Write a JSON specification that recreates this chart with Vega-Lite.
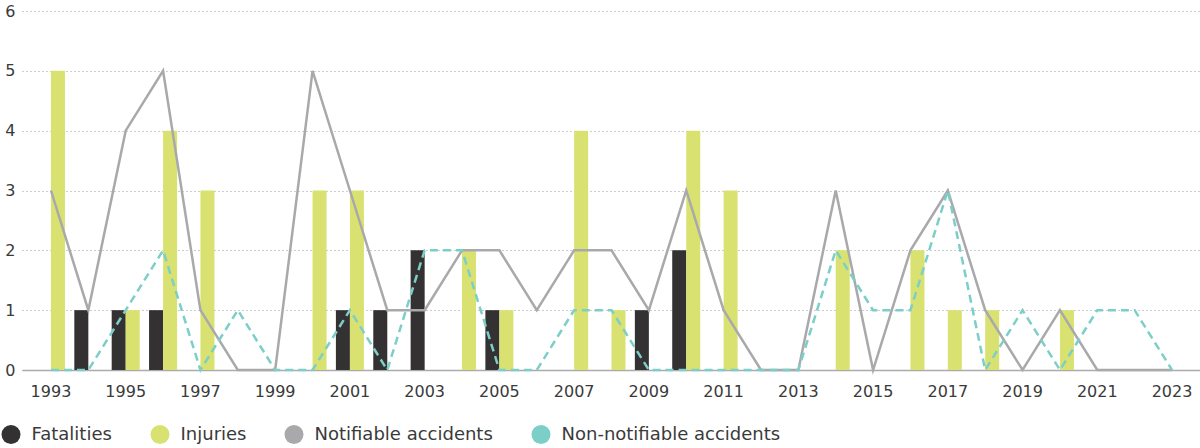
{
  "$schema": "https://vega.github.io/schema/vega-lite/v6.json",
  "width": 1179,
  "height": 359,
  "autosize": {"type": "none"},
  "padding": {"left": 22, "top": 11, "right": 0, "bottom": 78},
  "background": "white",
  "data": {
    "values": [
      {"year": 1993, "Fatalities": 0, "Injuries": 5, "Notifiable accidents": 3, "Non-notifiable accidents": 0},
      {"year": 1994, "Fatalities": 1, "Injuries": 0, "Notifiable accidents": 1, "Non-notifiable accidents": 0},
      {"year": 1995, "Fatalities": 1, "Injuries": 1, "Notifiable accidents": 4, "Non-notifiable accidents": 1},
      {"year": 1996, "Fatalities": 1, "Injuries": 4, "Notifiable accidents": 5, "Non-notifiable accidents": 2},
      {"year": 1997, "Fatalities": 0, "Injuries": 3, "Notifiable accidents": 1, "Non-notifiable accidents": 0},
      {"year": 1998, "Fatalities": 0, "Injuries": 0, "Notifiable accidents": 0, "Non-notifiable accidents": 1},
      {"year": 1999, "Fatalities": 0, "Injuries": 0, "Notifiable accidents": 0, "Non-notifiable accidents": 0},
      {"year": 2000, "Fatalities": 0, "Injuries": 3, "Notifiable accidents": 5, "Non-notifiable accidents": 0},
      {"year": 2001, "Fatalities": 1, "Injuries": 3, "Notifiable accidents": 3, "Non-notifiable accidents": 1},
      {"year": 2002, "Fatalities": 1, "Injuries": 0, "Notifiable accidents": 1, "Non-notifiable accidents": 0},
      {"year": 2003, "Fatalities": 2, "Injuries": 0, "Notifiable accidents": 1, "Non-notifiable accidents": 2},
      {"year": 2004, "Fatalities": 0, "Injuries": 2, "Notifiable accidents": 2, "Non-notifiable accidents": 2},
      {"year": 2005, "Fatalities": 1, "Injuries": 1, "Notifiable accidents": 2, "Non-notifiable accidents": 0},
      {"year": 2006, "Fatalities": 0, "Injuries": 0, "Notifiable accidents": 1, "Non-notifiable accidents": 0},
      {"year": 2007, "Fatalities": 0, "Injuries": 4, "Notifiable accidents": 2, "Non-notifiable accidents": 1},
      {"year": 2008, "Fatalities": 0, "Injuries": 1, "Notifiable accidents": 2, "Non-notifiable accidents": 1},
      {"year": 2009, "Fatalities": 1, "Injuries": 0, "Notifiable accidents": 1, "Non-notifiable accidents": 0},
      {"year": 2010, "Fatalities": 2, "Injuries": 4, "Notifiable accidents": 3, "Non-notifiable accidents": 0},
      {"year": 2011, "Fatalities": 0, "Injuries": 3, "Notifiable accidents": 1, "Non-notifiable accidents": 0},
      {"year": 2012, "Fatalities": 0, "Injuries": 0, "Notifiable accidents": 0, "Non-notifiable accidents": 0},
      {"year": 2013, "Fatalities": 0, "Injuries": 0, "Notifiable accidents": 0, "Non-notifiable accidents": 0},
      {"year": 2014, "Fatalities": 0, "Injuries": 2, "Notifiable accidents": 3, "Non-notifiable accidents": 2},
      {"year": 2015, "Fatalities": 0, "Injuries": 0, "Notifiable accidents": 0, "Non-notifiable accidents": 1},
      {"year": 2016, "Fatalities": 0, "Injuries": 2, "Notifiable accidents": 2, "Non-notifiable accidents": 1},
      {"year": 2017, "Fatalities": 0, "Injuries": 1, "Notifiable accidents": 3, "Non-notifiable accidents": 3},
      {"year": 2018, "Fatalities": 0, "Injuries": 1, "Notifiable accidents": 1, "Non-notifiable accidents": 0},
      {"year": 2019, "Fatalities": 0, "Injuries": 0, "Notifiable accidents": 0, "Non-notifiable accidents": 1},
      {"year": 2020, "Fatalities": 0, "Injuries": 1, "Notifiable accidents": 1, "Non-notifiable accidents": 0},
      {"year": 2021, "Fatalities": 0, "Injuries": 0, "Notifiable accidents": 0, "Non-notifiable accidents": 1},
      {"year": 2022, "Fatalities": 0, "Injuries": 0, "Notifiable accidents": 0, "Non-notifiable accidents": 1},
      {"year": 2023, "Fatalities": 0, "Injuries": 0, "Notifiable accidents": 0, "Non-notifiable accidents": 0}
    ]
  },
  "encoding": {
    "x": {
      "field": "year",
      "type": "ordinal",
      "scale": {"type": "band", "paddingInner": 0.25, "paddingOuter": 0.4},
      "axis": {
        "title": null,
        "values": [1993, 1995, 1997, 1999, 2001, 2003, 2005, 2007, 2009, 2011, 2013, 2015, 2017, 2019, 2021, 2023],
        "labelAngle": 0,
        "ticks": false,
        "grid": false,
        "domain": true,
        "domainColor": "#ababae",
        "domainWidth": 1.5,
        "labelPadding": 13,
        "labelFont": "DejaVu Sans",
        "labelFontSize": 16,
        "labelColor": "#3a3a3a"
      }
    },
    "y": {
      "field": "value",
      "type": "quantitative",
      "scale": {"domain": [0, 6], "nice": false},
      "axis": {
        "title": null,
        "values": [0, 1, 2, 3, 4, 5, 6],
        "ticks": false,
        "domain": false,
        "grid": true,
        "gridColor": "#9a9a9a",
        "gridDash": [1, 3],
        "gridWidth": 1,
        "labelPadding": 7,
        "labelFont": "DejaVu Sans",
        "labelFontSize": 16,
        "labelColor": "#3a3a3a"
      }
    },
    "color": {
      "field": "series",
      "type": "nominal",
      "scale": {
        "domain": ["Fatalities", "Injuries", "Notifiable accidents", "Non-notifiable accidents"],
        "range": ["#333132", "#d9e271", "#a9a9ac", "#7ccfc9"]
      }
    }
  },
  "layer": [
    {
      "transform": [{"fold": ["Fatalities", "Injuries"], "as": ["series", "value"]}],
      "mark": {"type": "bar"},
      "encoding": {
        "xOffset": {
          "field": "series",
          "type": "nominal",
          "scale": {"domain": ["Fatalities", "Injuries"], "paddingInner": 0, "paddingOuter": 0}
        },
        "color": {
          "field": "series",
          "type": "nominal",
          "legend": {
            "title": null,
            "orient": "none",
            "direction": "horizontal",
            "legendX": -20.5,
            "legendY": 414,
            "symbolType": "circle",
            "symbolSize": 361,
            "symbolStrokeWidth": 0,
            "labelOffset": 11,
            "columnPadding": 38,
            "labelFont": "DejaVu Sans",
            "labelFontSize": 18,
            "labelColor": "#3a3a3a",
            "padding": 0,
            "labelLimit": 400
          }
        }
      }
    },
    {
      "transform": [{"fold": ["Notifiable accidents"], "as": ["series", "value"]}],
      "mark": {"type": "line", "strokeWidth": 2.5},
      "encoding": {
        "color": {"field": "series", "type": "nominal", "legend": null}
      }
    },
    {
      "transform": [{"fold": ["Non-notifiable accidents"], "as": ["series", "value"]}],
      "mark": {"type": "line", "strokeWidth": 2.5, "strokeDash": [8, 5]},
      "encoding": {
        "color": {"field": "series", "type": "nominal", "legend": null}
      }
    }
  ],
  "config": {
    "view": {"stroke": null}
  }
}
